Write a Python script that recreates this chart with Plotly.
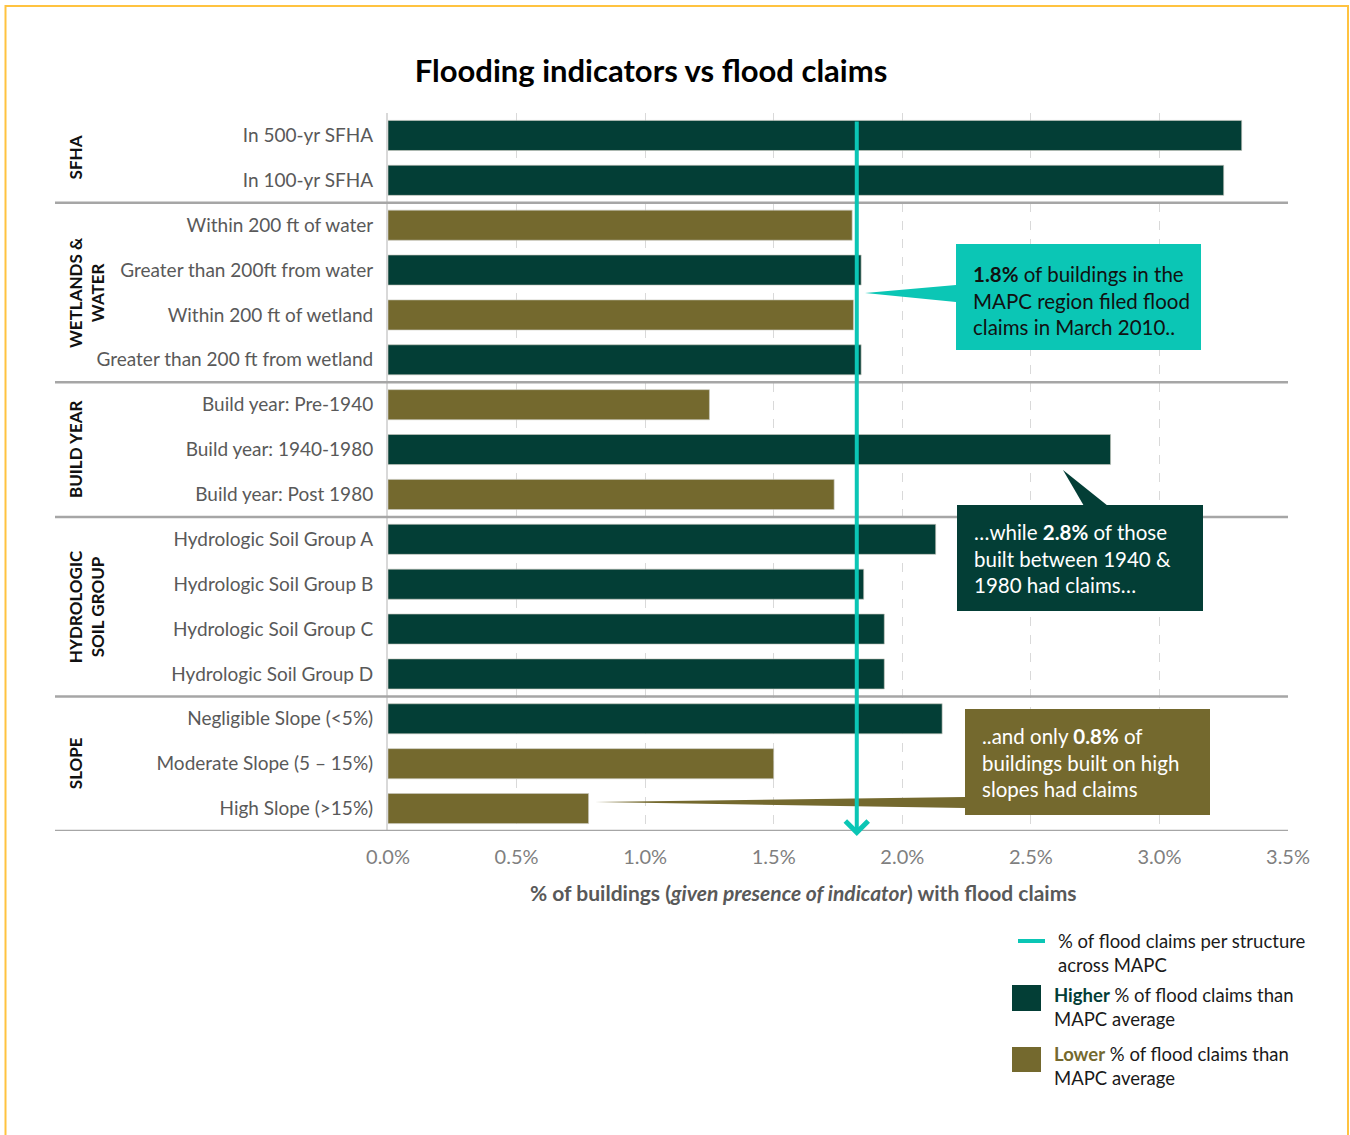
import plotly.graph_objects as go

# ---------------- data ----------------
categories = [
    "In 500-yr SFHA", "In 100-yr SFHA",
    "Within 200 ft of water", "Greater than 200ft from water",
    "Within 200 ft of wetland", "Greater than 200 ft from wetland",
    "Build year: Pre-1940", "Build year: 1940-1980", "Build year: Post 1980",
    "Hydrologic Soil Group A", "Hydrologic Soil Group B",
    "Hydrologic Soil Group C", "Hydrologic Soil Group D",
    "Negligible Slope (<5%)", "Moderate Slope (5 \u2013 15%)", "High Slope (>15%)",
]
values = [3.32, 3.25, 1.805, 1.84, 1.81, 1.84, 1.25, 2.81, 1.735,
          2.13, 1.85, 1.93, 1.93, 2.155, 1.50, 0.78]
group_names = ["SFHA", "WETLANDS &<br>WATER", "BUILD YEAR", "HYDROLOGIC<br>SOIL GROUP", "SLOPE"]
group_sizes = [2, 4, 3, 4, 3]
mapc_average = 1.823
x_ticks = [0, 0.5, 1.0, 1.5, 2.0, 2.5, 3.0, 3.5]
x_ticktext = ["%.1f%%" % t for t in x_ticks]

# ---------------- style ----------------
DARK = "#033E36"
OLIVE = "#74692E"
TEAL = "#0BC6B5"
FONT = "Lato"
W, H = 1350, 1135
ML, MR, MT, MB = 388, 62, 113, 304
PW, PH = W - ML - MR, H - MT - MB


def px(xp):
    return (xp - ML) / PW


def py(yp):
    return (H - MB - yp) / PH


idx = list(range(len(categories)))
colors = [DARK if v > mapc_average else OLIVE for v in values]

fig = go.Figure()
fig.add_trace(go.Bar(
    x=values, y=idx, orientation="h",
    marker=dict(color=colors, line=dict(color="rgba(200,200,190,0.8)", width=0.8)),
    width=0.67, showlegend=False, hoverinfo="x+text", text=categories, textposition="none",
))

shapes = []
annotations = []

# group separators
b = -0.5
for s in group_sizes:
    b += s
    shapes.append(dict(type="line", xref="paper", yref="y", x0=px(55), x1=1, y0=b, y1=b,
                       line=dict(color="#a6a6a6", width=2.5), layer="above"))

# group labels
start = 0
for name, s in zip(group_names, group_sizes):
    center = start + (s - 1) / 2
    start += s
    annotations.append(dict(xref="paper", yref="y", x=px(63), y=center, text="<b>%s</b>" % name,
                            textangle=-90, xanchor="left", yanchor="middle", showarrow=False,
                            font=dict(family=FONT, size=17, color="#111111")))

# average line with arrow
annotations.append(dict(xref="x", yref="paper", x=mapc_average, y=py(836), ax=0, ay=-(836 - 120),
                        axref="pixel", ayref="pixel", text="", showarrow=True, arrowhead=4,
                        arrowsize=1.1, arrowwidth=4, arrowcolor=TEAL))


# callout boxes
def box(x0, y0, x1, y1, color, wedge):
    shapes.append(dict(type="rect", xref="paper", yref="paper", x0=px(x0), x1=px(x1),
                       y0=py(y1), y1=py(y0), fillcolor=color, line=dict(width=0), layer="above"))
    path = "M %f,%f L %f,%f L %f,%f Z" % tuple(
        v for p in wedge for v in (px(p[0]), py(p[1])))
    shapes.append(dict(type="path", xref="paper", yref="paper", path=path, fillcolor=color,
                       line=dict(width=0), layer="above"))


box(956, 244, 1201, 350, TEAL, [(956, 285), (865, 293), (956, 302)])
box(957, 505, 1203, 611, DARK, [(1084, 506), (1063, 470), (1108, 506)])
box(965, 709, 1210, 815, OLIVE, [(965, 797), (595, 802), (965, 808)])

box_font = 20.5
annotations.append(dict(xref="paper", yref="paper", x=px(971), y=py(300), xanchor="left",
                        yanchor="middle", align="left", showarrow=False,
                        text="<b>1.8%</b> of buildings in the<br>MAPC region filed flood<br>claims in March 2010..",
                        font=dict(family=FONT, size=box_font, color="#111111")))
annotations.append(dict(xref="paper", yref="paper", x=px(972), y=py(558), xanchor="left",
                        yanchor="middle", align="left", showarrow=False,
                        text="\u2026while <b>2.8%</b> of those<br>built between 1940 &amp;<br>1980 had claims\u2026",
                        font=dict(family=FONT, size=box_font, color="#ffffff")))
annotations.append(dict(xref="paper", yref="paper", x=px(980), y=py(762), xanchor="left",
                        yanchor="middle", align="left", showarrow=False,
                        text="..and only <b>0.8%</b> of<br>buildings built on high<br>slopes had claims",
                        font=dict(family=FONT, size=box_font, color="#ffffff")))

# x-axis title
annotations.append(dict(xref="paper", yref="paper", x=px(803), y=py(892), xanchor="center",
                        yanchor="middle", showarrow=False,
                        text="<b>% of buildings (<i>given presence of indicator</i>) with flood claims</b>",
                        font=dict(family=FONT, size=21, color="#595959")))

# manual legend
shapes.append(dict(type="line", xref="paper", yref="paper", x0=px(1018), x1=px(1045),
                   y0=py(941), y1=py(941), line=dict(color=TEAL, width=4)))
shapes.append(dict(type="rect", xref="paper", yref="paper", x0=px(1012), x1=px(1041),
                   y0=py(1011), y1=py(985), fillcolor=DARK, line=dict(width=0)))
shapes.append(dict(type="rect", xref="paper", yref="paper", x0=px(1012), x1=px(1041),
                   y0=py(1072), y1=py(1047), fillcolor=OLIVE, line=dict(width=0)))
leg_font = dict(family=FONT, size=18.5, color="#1a1a1a")
annotations.append(dict(xref="paper", yref="paper", x=px(1056), y=py(953), xanchor="left",
                        yanchor="middle", align="left", showarrow=False, font=leg_font,
                        text="% of flood claims per structure<br>across MAPC"))
annotations.append(dict(xref="paper", yref="paper", x=px(1052), y=py(1007), xanchor="left",
                        yanchor="middle", align="left", showarrow=False, font=leg_font,
                        text="<b><span style='color:%s'>Higher</span></b> %% of flood claims than<br>MAPC average" % DARK))
annotations.append(dict(xref="paper", yref="paper", x=px(1052), y=py(1066), xanchor="left",
                        yanchor="middle", align="left", showarrow=False, font=leg_font,
                        text="<b><span style='color:%s'>Lower</span></b> %% of flood claims than<br>MAPC average" % OLIVE))

# page border
shapes.append(dict(type="rect", xref="paper", yref="paper", x0=px(5.5), x1=px(1348),
                   y0=py(1145), y1=py(6), line=dict(color="#FFC340", width=2), layer="below"))

fig.update_layout(
    width=W, height=H,
    margin=dict(l=ML, r=MR, t=MT, b=MB),
    paper_bgcolor="white", plot_bgcolor="white",
    title=dict(text="<b>Flooding indicators vs flood claims</b>", x=651 / W, xanchor="center",
               y=1 - 71 / H, yanchor="middle", font=dict(family=FONT, size=31, color="#000000")),
    xaxis=dict(range=[0, 3.5], tickmode="array", tickvals=x_ticks, ticktext=x_ticktext,
               showgrid=True, gridcolor="#d9d9d9", griddash="dash", gridwidth=1,
               zeroline=False, showline=False, ticks="", ticklabelstandoff=12,
               tickfont=dict(family=FONT, size=20, color="#7f7f7f")),
    yaxis=dict(range=[len(categories) - 0.5, -0.5], tickvals=idx, ticktext=categories,
               showgrid=False, zeroline=False, showline=True, linecolor="#d9d9d9", linewidth=2,
               ticks="", ticklabelstandoff=9,
               tickfont=dict(family=FONT, size=19, color="#595959")),
    shapes=shapes, annotations=annotations,
    bargap=0.33,
)

fig.write_html("out.html", config={"displayModeBar": False},
               post_script="document.body.style.margin='0';document.body.style.overflow='hidden';")
